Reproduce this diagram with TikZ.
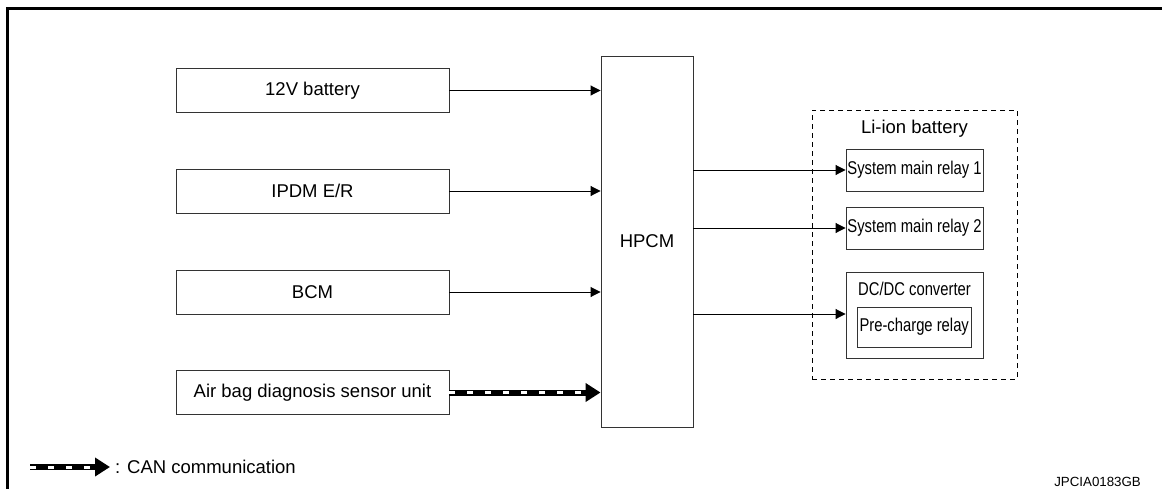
\documentclass[tikz,border=0pt]{standalone}
\usepackage{fontspec}
\setmainfont{Liberation Sans}
\newfontfamily\narrowsf[FakeStretch=0.8]{Liberation Sans}
\usepackage{tikz}
\usetikzlibrary{arrows.meta,positioning}
\newcommand{\labelfont}{\fontsize{18.5}{21}\selectfont}

\begin{document}
\begin{tikzpicture}[x=1pt,y=-1pt,font=\labelfont,
                    every node/.style={inner sep=0pt},
                    unitbox/.style={draw=black!80,line width=0.9pt,minimum width=273pt,minimum height=44pt},
                    relaybox/.style={draw=black!80,line width=0.9pt,minimum width=137pt,minimum height=42pt,font=\labelfont\narrowsf},
                    sig/.style={line width=0.9pt,-{Triangle[length=10pt,width=10pt]}},
                    canline/.style={line width=6pt,-{Triangle[length=15pt,width=18pt]},
                        postaction={draw=white,line width=3pt,-,shorten >=15pt,
                                    dash pattern=on 6pt off 12pt}}]
  \useasboundingbox (0,0) rectangle (1162,488);
  % open frame
  \draw[line width=3pt] (7.5,490) -- (7.5,8.5) -- (1165,8.5);
  % inputs
  \node[unitbox] (bat12) at (312.5,90.5) {12V battery};
  \node[unitbox] (ipdm) at (312.5,191) {IPDM E/R};
  \node[unitbox] (bcm) at (312.5,292) {BCM};
  \node[unitbox] (airbag) at (312.5,392.5) {Air bag diagnosis sensor unit};
  \node[draw=black!80,line width=0.9pt,minimum width=92pt,minimum height=371pt] (hpcm) at (647,241.5) {HPCM};
  % Li-ion battery pack
  \node[draw,line width=0.9pt,dash pattern=on 5pt off 4pt,minimum width=205pt,minimum height=269pt] (liion) at (914.5,244.5) {};
  \node (liionlbl) at (914.5,129) {Li-ion battery};
  \node[relaybox] (smr1) at (914.5,170) {System main relay 1};
  \node[relaybox] (smr2) at (914.5,228) {System main relay 2};
  \node[relaybox,minimum height=86pt] (dcdc) at (914.5,315.7) {};
  \node[font=\labelfont\narrowsf] (dcdclbl) at (914.5,289) {DC/DC converter};
  \node[relaybox,minimum width=113.5pt,minimum height=40pt] (prechg) at (914.2,327) {Pre-charge relay};
  % connections
  \draw[sig] (bat12.east) -- (hpcm.west |- bat12.east);
  \draw[sig] (ipdm.east) -- (hpcm.west |- ipdm.east);
  \draw[sig] (bcm.east) -- (hpcm.west |- bcm.east);
  \draw[canline] (airbag.east) -- (hpcm.west |- airbag.east);
  \draw[sig] (hpcm.east |- smr1.west) -- (smr1.west);
  \draw[sig] (hpcm.east |- smr2.west) -- (smr2.west);
  \draw[sig] (hpcm.east |- 0,314) -- (dcdc.west |- 0,314);
  % legend
  \coordinate (canA) at (30,467);
  \coordinate (canB) at (110,467);
  \draw[canline] (canA) -- (canB);
  \node[right=5pt of canB] (canlbl) {: CAN communication};
  \node[anchor=base east,font=\fontsize{13.3}{15}\selectfont] (figid) at (1141,486.5) {JPCIA0183GB};
\end{tikzpicture}
\end{document}
